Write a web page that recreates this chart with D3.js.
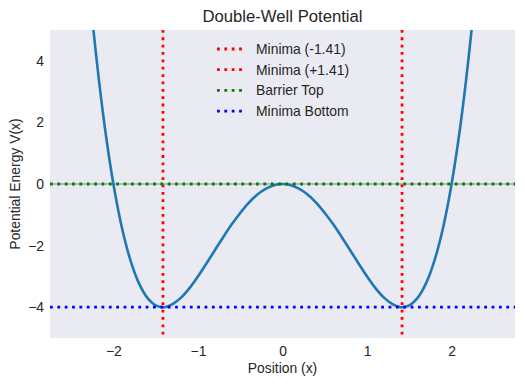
<!DOCTYPE html>
<html>
<head>
<meta charset="utf-8">
<script src="https://cdn.jsdelivr.net/npm/d3@7"></script>
<style>
  body { margin: 0; background: #fff; }
  text { font-family: "Liberation Sans", Arial, sans-serif; fill: #262626; }
</style>
</head>
<body>
<div id="chart"></div>
<script>
const width = 525;
const height = 386;
const margin = {top: 30, right: 10, bottom: 48, left: 50};

// potential curve
const xs = [-2.5, -2.4, -2.3, -2.2, -2.1, -2.0, -1.9, -1.8, -1.7, -1.6, -1.5, -1.4, -1.3, -1.2, -1.1, -1.0,
  -0.9, -0.8, -0.7, -0.6, -0.5, -0.4, -0.3, -0.2, -0.1, 0.0, 0.1, 0.2, 0.3, 0.4, 0.5, 0.6, 0.7, 0.8, 0.9,
  1.0, 1.1, 1.2, 1.3, 1.4, 1.5, 1.6, 1.7, 1.8, 1.9, 2.0, 2.1, 2.2, 2.3, 2.4, 2.5];
const vs = [14.06, 10.14, 6.82, 4.07, 1.81, 0.0, -1.41, -2.46, -3.21, -3.69, -3.94, -4.0, -3.90, -3.69, -3.38, -3.0,
  -2.58, -2.15, -1.72, -1.31, -0.94, -0.61, -0.35, -0.16, -0.04, 0.0, -0.04, -0.16, -0.35, -0.61, -0.94, -1.31, -1.72, -2.15, -2.58,
  -3.0, -3.38, -3.69, -3.90, -4.0, -3.94, -3.69, -3.21, -2.46, -1.41, 0.0, 1.81, 4.07, 6.82, 10.14, 14.06];

const minimaX = [-1.414, 1.414];
const barrierY = 0;
const bottomY = -4;
const xTicks = [-2, -1, 0, 1, 2];
const yTicks = [-4, -2, 0, 2, 4];

const legendItems = [
  {label: 'Minima (-1.41)', color: '#ff0000'},
  {label: 'Minima (+1.41)', color: '#ff0000'},
  {label: 'Barrier Top', color: '#008000'},
  {label: 'Minima Bottom', color: '#0000ff'}
];

const innerW = width - margin.left - margin.right;
const innerH = height - margin.top - margin.bottom;

const x = d3.scaleLinear().domain([-2.75, 2.75]).range([0, innerW]);
const y = d3.scaleLinear().domain([-5, 5]).range([innerH, 0]);

const svg = d3.select('#chart').append('svg')
  .attr('width', width)
  .attr('height', height);

svg.append('defs').append('clipPath').attr('id', 'clip')
  .append('rect').attr('width', innerW).attr('height', innerH);

const g = svg.append('g').attr('transform', `translate(${margin.left},${margin.top})`);

g.append('rect')
  .attr('width', innerW)
  .attr('height', innerH)
  .attr('fill', '#eaeaf2');

const plot = g.append('g').attr('clip-path', 'url(#clip)');

const dotted = '2.78,4.58';

// zero line
plot.append('line')
  .attr('x1', 0).attr('x2', innerW)
  .attr('y1', y(0)).attr('y2', y(0))
  .attr('stroke', '#808080')
  .attr('stroke-width', 1);

plot.append('path')
  .datum(xs.map((d, i) => [d, vs[i]]))
  .attr('fill', 'none')
  .attr('stroke', '#1f77b4')
  .attr('stroke-width', 2.6)
  .attr('d', d3.line().x(d => x(d[0])).y(d => y(d[1])).curve(d3.curveCatmullRom));

plot.selectAll('.vmin')
  .data(minimaX)
  .join('line')
  .attr('class', 'vmin')
  .attr('x1', d => x(d)).attr('x2', d => x(d))
  .attr('y1', 0).attr('y2', innerH)
  .attr('stroke', '#ff0000')
  .attr('stroke-width', 2.78)
  .attr('stroke-dasharray', dotted);

plot.append('line')
  .attr('x1', 0).attr('x2', innerW)
  .attr('y1', y(barrierY)).attr('y2', y(barrierY))
  .attr('stroke', '#008000')
  .attr('stroke-width', 2.78)
  .attr('stroke-dasharray', dotted);

plot.append('line')
  .attr('x1', 0).attr('x2', innerW)
  .attr('y1', y(bottomY)).attr('y2', y(bottomY))
  .attr('stroke', '#0000ff')
  .attr('stroke-width', 2.78)
  .attr('stroke-dasharray', dotted);

// axes
const fmt = d => d < 0 ? '\u2212' + Math.abs(d) : d;

const xAxis = g.append('g')
  .attr('transform', `translate(0,${innerH})`)
  .call(d3.axisBottom(x).tickValues(xTicks).tickSize(0).tickPadding(8).tickFormat(fmt));
xAxis.select('.domain').remove();
xAxis.selectAll('text').attr('font-size', 13.9).style('fill', '#262626');

const yAxis = g.append('g')
  .call(d3.axisLeft(y).tickValues(yTicks).tickSize(0).tickPadding(6).tickFormat(fmt));
yAxis.select('.domain').remove();
yAxis.selectAll('text').attr('font-size', 13.9).style('fill', '#262626');

svg.append('text')
  .attr('x', margin.left + innerW / 2)
  .attr('y', 22)
  .attr('text-anchor', 'middle')
  .attr('font-size', 16.7)
  .text('Double-Well Potential');

svg.append('text')
  .attr('x', margin.left + innerW / 2)
  .attr('y', 373)
  .attr('text-anchor', 'middle')
  .attr('font-size', 13.9)
  .text('Position (x)');

svg.append('text')
  .attr('transform', `translate(20,${margin.top + innerH / 2}) rotate(-90)`)
  .attr('text-anchor', 'middle')
  .attr('font-size', 13.9)
  .text('Potential Energy V(x)');

// legend
const legend = svg.append('g').attr('transform', 'translate(217,49)');
const rows = legend.selectAll('g')
  .data(legendItems)
  .join('g')
  .attr('transform', (d, i) => `translate(0,${i * 20.7})`);
rows.append('line')
  .attr('x1', 0).attr('x2', 27)
  .attr('stroke', d => d.color)
  .attr('stroke-width', 2.78)
  .attr('stroke-dasharray', dotted);
rows.append('text')
  .attr('x', 39)
  .attr('dy', '0.35em')
  .attr('font-size', 13.9)
  .text(d => d.label);
</script>
</body>
</html>
